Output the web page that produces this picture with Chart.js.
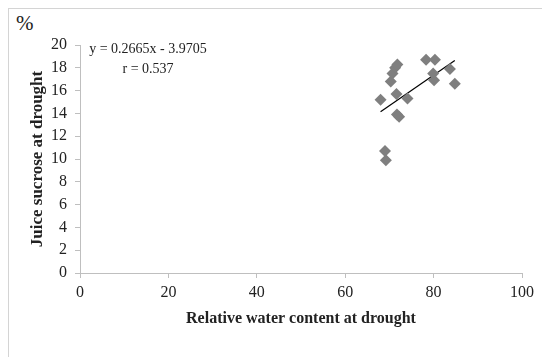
<!DOCTYPE html>
<html>
<head>
<meta charset="utf-8">
<script src="https://cdn.jsdelivr.net/npm/chart.js@4"></script>
<style>
  html, body { margin: 0; padding: 0; background: #fff; }
  #wrap { position: relative; width: 542px; height: 357px; overflow: hidden; }
  #frame { position: absolute; left: 8px; top: 8px; right: -2px; bottom: -2px;
           border-top: 1px solid #d4d4d4; border-left: 1px solid #d4d4d4; }
  #pct { position: absolute; left: 16px; top: 11px; font: 21px "Liberation Serif", serif; color: #222; }
  canvas { position: absolute; left: 0; top: 0; }
</style>
</head>
<body>
<div id="wrap">
  <div id="frame"></div>
  <div id="pct">%</div>
  <canvas id="grafico" width="542" height="357"></canvas>
</div>
<script>
// valores
const aguaRelativa = [68.0, 69.0, 69.2, 70.3, 70.7, 71.3, 71.8, 71.6, 71.7, 72.2, 74.1, 78.3, 80.3, 79.9, 80.1, 83.7, 84.8];
const sacaroseSuco = [15.2, 10.7, 9.9, 16.8, 17.5, 18.0, 18.3, 15.7, 13.9, 13.7, 15.3, 18.7, 18.7, 17.5, 16.9, 17.9, 16.6];

// linha de tendência (extremos)
const tendenciaX = [68.0, 84.8];
const tendenciaY = [14.15, 18.63];

const textoEquacao = 'y = 0.2665x - 3.9705';
const textoR = 'r = 0.537';

const ticksX = [0, 20, 40, 60, 80, 100];
const ticksY = [0, 2, 4, 6, 8, 10, 12, 14, 16, 18, 20];

const fonteSerif = "'Liberation Serif', serif";

// desenha a equação no canto superior esquerdo da área do gráfico
const pluginEquacao = {
    id: 'equacao',
    afterDraw(chart) {
        const ctx = chart.ctx;
        ctx.save();
        ctx.fillStyle = '#222';
        ctx.font = '14px ' + fonteSerif;
        ctx.textAlign = 'center';
        ctx.textBaseline = 'middle';
        ctx.fillText(textoEquacao, 148, 49);
        ctx.fillText(textoR, 148, 69);
        ctx.restore();
    }
};

const ctx = document.getElementById('grafico').getContext('2d');

new Chart(ctx, {
    type: 'scatter',
    data: {
        datasets: [
            {
                label: 'Pontos',
                data: aguaRelativa.map((x, i) => ({ x: x, y: sacaroseSuco[i] })),
                pointStyle: 'rectRot',
                radius: 6,
                backgroundColor: '#7f7f7f',
                borderColor: '#7f7f7f',
                borderWidth: 0
            },
            {
                label: 'Tendência',
                type: 'line',
                data: tendenciaX.map((x, i) => ({ x: x, y: tendenciaY[i] })),
                borderColor: '#000',
                borderWidth: 1.2,
                pointRadius: 0,
                fill: false
            }
        ]
    },
    options: {
        responsive: false,
        animation: false,
        layout: { padding: { left: 0, top: 45, right: 20, bottom: 0 } },
        plugins: {
            legend: { display: false },
            tooltip: { enabled: false }
        },
        scales: {
            x: {
                type: 'linear',
                min: 0,
                max: 100,
                afterFit: (s) => { s.height = 84; },
                afterBuildTicks: (s) => { s.ticks = ticksX.map(v => ({ value: v })); },
                border: { color: '#bfbfbf', width: 1 },
                grid: { drawOnChartArea: false, tickLength: 5, color: '#bfbfbf' },
                ticks: {
                    padding: 5,
                    color: '#222',
                    font: { size: 16, family: fonteSerif }
                },
                title: {
                    display: true,
                    text: 'Relative water content at drought',
                    color: '#222',
                    padding: { top: 0, bottom: 29 },
                    font: { size: 16, weight: 'bold', family: fonteSerif, lineHeight: 1.2 }
                }
            },
            y: {
                type: 'linear',
                min: 0,
                max: 20,
                afterFit: (s) => { s.width = 80; },
                afterBuildTicks: (s) => { s.ticks = ticksY.map(v => ({ value: v })); },
                border: { color: '#bfbfbf', width: 1 },
                grid: { drawOnChartArea: false, tickLength: 5, color: '#bfbfbf' },
                ticks: {
                    padding: 8,
                    color: '#222',
                    font: { size: 16, family: fonteSerif }
                },
                title: {
                    display: true,
                    text: 'Juice sucrose at drought',
                    color: '#222',
                    padding: { top: 27, bottom: 0 },
                    font: { size: 17, weight: 'bold', family: fonteSerif, lineHeight: 1.2 }
                }
            }
        }
    },
    plugins: [pluginEquacao]
});
</script>
</body>
</html>
